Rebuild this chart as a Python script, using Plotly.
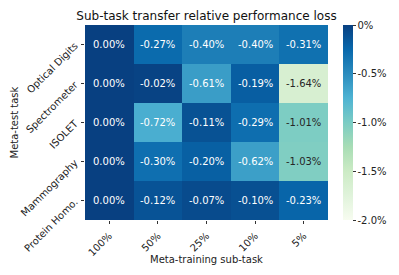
import plotly.graph_objects as go

train_subtasks = ["100%", "50%", "25%", "10%", "5%"]
test_tasks = ["Optical Digits", "Spectrometer", "ISOLET", "Mammography", "Protein Homo."]
loss = [
    [0.00, -0.27, -0.40, -0.40, -0.31],
    [0.00, -0.02, -0.61, -0.19, -1.64],
    [0.00, -0.72, -0.11, -0.29, -1.01],
    [0.00, -0.30, -0.20, -0.62, -1.03],
    [0.00, -0.12, -0.07, -0.10, -0.23],
]
cbar_vals = [0, -0.5, -1.0, -1.5, -2.0]
cbar_text = ["0%", "-0.5%", "-1.0%", "-1.5%", "-2.0%"]

FONT = "DejaVu Sans"
L, R, T, B = 85, 71, 25, 55
W, H = 399, 275
PW, PH = W - L - R, H - T - B

fig = go.Figure(go.Heatmap(
    z=loss, x=train_subtasks, y=test_tasks,
    colorscale="GnBu", zmin=-2, zmax=0,
    colorbar=dict(
        x=(343 - L) / PW, xanchor="left", xpad=0, ypad=0,
        y=0.5, yanchor="middle", len=1, lenmode="fraction",
        thickness=10, outlinewidth=0,
        tickvals=cbar_vals, ticktext=cbar_text,
        ticks="outside", ticklen=3, tickcolor="#333",
        tickfont=dict(family=FONT, size=10, color="#222"),
    ),
    hoverinfo="skip",
))

annotations = []
for i, row in enumerate(loss):
    for j, v in enumerate(row):
        color = "#262626" if v < -0.9 else "white"
        annotations.append(dict(
            x=train_subtasks[j], y=test_tasks[i], text=f"{v:.2f}%",
            showarrow=False, font=dict(family=FONT, size=10, color=color),
        ))

# axis titles
annotations.append(dict(text="Meta-training sub-task", xref="paper", yref="paper",
                        x=0.5, y=(H - B - 259) / PH, xanchor="center", yanchor="middle",
                        showarrow=False, font=dict(family=FONT, size=10, color="#222")))
annotations.append(dict(text="Meta-test task", xref="paper", yref="paper",
                        x=(14 - L) / PW, y=0.5, xanchor="center", yanchor="middle",
                        textangle=-90, showarrow=False,
                        font=dict(family=FONT, size=10, color="#222")))

fig.update_layout(
    width=W, height=H,
    margin=dict(l=L, r=R, t=T, b=B, autoexpand=False),
    paper_bgcolor="white", plot_bgcolor="white",
    font=dict(family=FONT, size=10, color="#222"),
    title=dict(text="Sub-task transfer relative performance loss",
               x=(85 + 328) / 2 / W, xanchor="center", y=1 - 16 / H, yanchor="middle",
               font=dict(family=FONT, size=12, color="#111")),
    annotations=annotations,
    xaxis=dict(tickangle=-45, ticks="outside", ticklen=3, tickcolor="#333",
               ticklabelstandoff=2, automargin=False,
               showgrid=False, zeroline=False,
               tickfont=dict(family=FONT, size=10)),
    yaxis=dict(autorange="reversed", tickangle=-45, ticks="outside", ticklen=3,
               ticklabelstandoff=4, automargin=False,
               tickcolor="#333", showgrid=False, zeroline=False,
               tickfont=dict(family=FONT, size=10)),
)

fig.write_html("out.html", config={"displayModeBar": False},
               post_script="document.body.style.margin='0';")
